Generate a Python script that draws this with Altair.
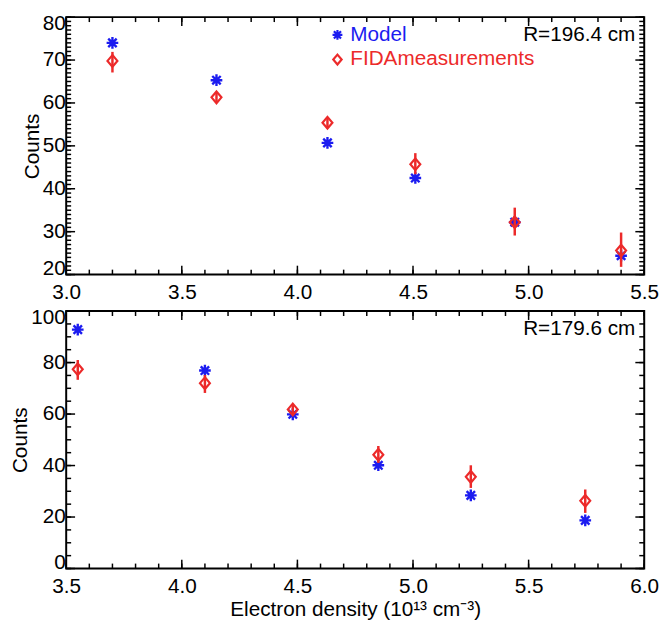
import altair as alt
import pandas as pd

FONT = "Liberation Sans"
BLUE = "#1c1cf0"
RED = "#ec2a2a"

# ---- data ----
top_density = [3.20, 3.65, 4.13, 4.51, 4.94, 5.40]
top_model = [74.0, 65.3, 50.7, 42.5, 32.2, 24.4]
top_fida = [69.8, 61.3, 55.4, 45.7, 32.2, 25.6]
top_fida_lo = [67.1, 60.2, 54.3, 43.4, 29.1, 21.8]
top_fida_hi = [71.9, 62.4, 56.5, 48.3, 35.6, 29.8]

bot_density = [3.55, 4.10, 4.48, 4.85, 5.25, 5.745]
bot_model = [92.8, 76.9, 59.9, 40.1, 28.4, 18.7]
bot_fida = [77.4, 72.0, 61.8, 44.2, 35.6, 26.3]
bot_fida_lo = [73.3, 68.2, 59.8, 41.0, 31.3, 21.6]
bot_fida_hi = [81.0, 75.2, 63.5, 47.6, 40.1, 30.7]

top_xticks = [3.0, 3.5, 4.0, 4.5, 5.0, 5.5]
top_yticks = [20, 30, 40, 50, 60, 70, 80]
bot_xticks = [3.5, 4.0, 4.5, 5.0, 5.5, 6.0]
bot_yticks = [0, 20, 40, 60, 80, 100]

legend_labels = ["Model", "FIDAmeasurements"]
top_label = "R=196.4 cm"
bot_label = "R=179.6 cm"
x_title = "Electron density (10\u00b9\u00b3 cm\u207b\u00b3)"
y_title = "Counts"

W, H = 586, 261
STAR = "M-1,0L1,0M0,-1L0,1M-0.72,-0.72L0.72,0.72M-0.72,0.72L0.72,-0.72"
DIAMOND = "M0,-1L0.85,0L0,1L-0.85,0Z"


def steps(lo, hi, step):
    n = int(round((hi - lo) / step))
    return [round(lo + i * step, 4) for i in range(n + 1)]


def panel(xs, model, fida, lo, hi, xdom, ydom, xticks, yticks, xstep, ystep,
          label, show_legend, xtitle):
    xsc = alt.Scale(domain=xdom, nice=False, zero=False)
    ysc = alt.Scale(domain=ydom, nice=False, zero=False)
    xaxis = alt.Axis(values=xticks, format=".1f", ticks=False, domain=False,
                     grid=False, labelPadding=7, labelFlush=False,
                     title=xtitle, titlePadding=3)
    yaxis = alt.Axis(values=yticks, format="d", ticks=False, domain=False,
                     grid=False, labelPadding=1, labelFlush=True,
                     labelFlushOffset=4, title=y_title, titlePadding=0)
    X = lambda f: alt.X(f, scale=xsc, axis=xaxis)
    Y = lambda f: alt.Y(f, scale=ysc, axis=yaxis)

    df = pd.DataFrame({"x": xs, "model": model, "fida": fida, "lo": lo, "hi": hi})
    base = alt.Chart(df)
    layers = []

    # inward ticks
    xmaj = pd.DataFrame({"v": xticks})
    xmin = pd.DataFrame({"v": steps(xdom[0], xdom[1], xstep)})
    ymaj = pd.DataFrame({"v": yticks})
    ymin = pd.DataFrame({"v": steps(ydom[0], ydom[1], ystep)})
    for d, ln in ((xmin, 5), (xmaj, 9)):
        layers.append(alt.Chart(d).mark_rule(color="black", strokeWidth=1.5).encode(
            x=X("v:Q"), y=alt.value(H), y2=alt.value(H - ln)))
        layers.append(alt.Chart(d).mark_rule(color="black", strokeWidth=1.5).encode(
            x=X("v:Q"), y=alt.value(0), y2=alt.value(ln)))
    for d, ln in ((ymin, 5), (ymaj, 9)):
        layers.append(alt.Chart(d).mark_rule(color="black", strokeWidth=1.5).encode(
            y=Y("v:Q"), x=alt.value(0), x2=alt.value(ln)))
        layers.append(alt.Chart(d).mark_rule(color="black", strokeWidth=1.5).encode(
            y=Y("v:Q"), x=alt.value(W), x2=alt.value(W - ln)))

    layers.append(base.mark_point(shape=STAR, size=140, filled=False, strokeWidth=2.4,
                                  color=BLUE, opacity=1).encode(x=X("x:Q"), y=Y("model:Q")))
    layers.append(base.mark_rule(color=RED, strokeWidth=2.5).encode(
        x=X("x:Q"), y=Y("lo:Q"), y2="hi:Q"))
    layers.append(base.mark_point(shape=DIAMOND, size=140, filled=False, strokeWidth=2.2,
                                  color=RED, opacity=1).encode(x=X("x:Q"), y=Y("fida:Q")))

    layers.append(alt.Chart(pd.DataFrame({"t": [label]})).mark_text(
        align="right", baseline="middle", fontSize=21, font=FONT, color="black").encode(
        text="t:N", x=alt.value(W - 9), y=alt.value(18)))

    if show_legend:
        for i, (lab, col, shp) in enumerate(zip(legend_labels, [BLUE, RED], [STAR, DIAMOND])):
            ld = pd.DataFrame({"t": [lab]})
            layers.append(alt.Chart(ld).mark_point(shape=shp, size=100, filled=False,
                                                   strokeWidth=2.2, color=col, opacity=1).encode(
                x=alt.value(275), y=alt.value(18 + 25 * i)))
            layers.append(alt.Chart(ld).mark_text(align="left", baseline="middle", fontSize=21,
                                                  font=FONT, color=col).encode(
                text="t:N", x=alt.value(288), y=alt.value(18 + 25 * i)))

    return alt.layer(*layers).properties(width=W, height=H)


top = panel(top_density, top_model, top_fida, top_fida_lo, top_fida_hi,
            [3.0, 5.5], [20, 80], top_xticks, top_yticks, 0.1, 1,
            top_label, True, None)
bottom = panel(bot_density, bot_model, bot_fida, bot_fida_lo, bot_fida_hi,
               [3.5, 6.0], [0, 100], bot_xticks, bot_yticks, 0.1, 5,
               bot_label, False, x_title)

chart = alt.vconcat(top, bottom, spacing=37, bounds="flush").properties(
    padding={"left": 0, "top": 0, "right": 0, "bottom": 0}
).configure_axis(
    labelFont=FONT, titleFont=FONT, labelFontSize=21, titleFontSize=21,
    titleFontWeight="normal", labelColor="black", titleColor="black"
).configure_view(stroke="black", strokeWidth=2)

chart.save("out.html", embed_options={"renderer": "svg", "actions": False})
